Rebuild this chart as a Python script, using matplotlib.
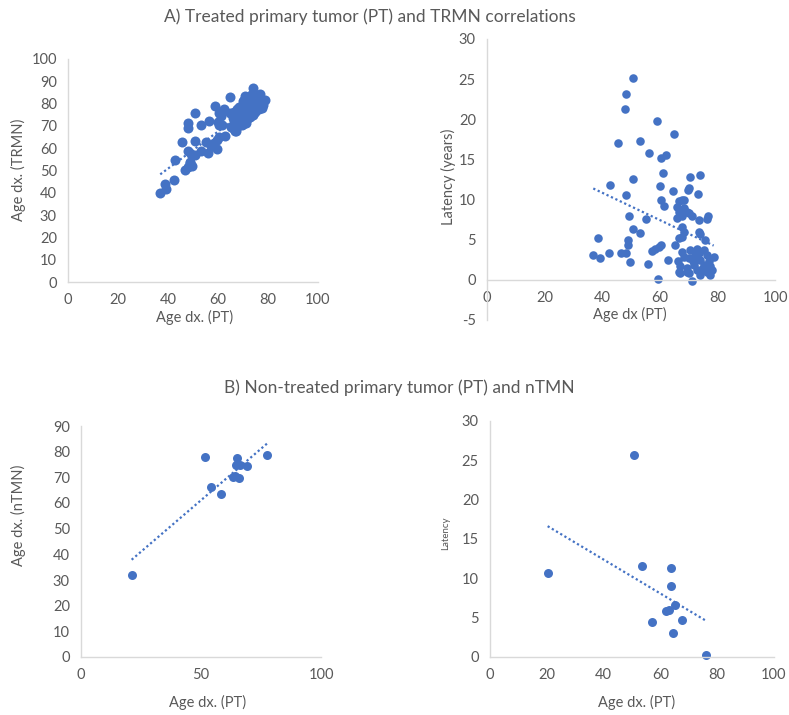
import matplotlib
matplotlib.use('Agg')
import matplotlib.pyplot as plt
import numpy as np

plt.rcParams['font.family'] = ['Lato', 'DejaVu Sans']
plt.rcParams['axes.unicode_minus'] = False

# ---------------- data ----------------
# A) treated: age at PT diagnosis, latency (years), age at TRMN diagnosis
age_pt_treated = [36.9, 39.1, 38.6, 42.3, 42.7, 45.6, 46.7, 48.1, 48.1, 48.1,
                  47.8, 48.9, 48.9, 49.3, 49.6, 50.7, 50.7, 50.7, 53.0, 53.0,
                  55.1, 56.0, 56.2, 57.2, 58.3, 58.9, 59.4, 59.7, 59.9, 60.3,
                  60.5, 60.5, 61.1, 61.4, 62.3, 62.8, 64.9, 64.6, 65.3, 66.4,
                  70.6, 74.1, 69.9, 70.3, 73.2, 66.5, 67.7, 66.0, 68.3, 66.5,
                  70.0, 67.7, 66.0, 71.2, 73.5, 76.4, 76.6, 67.7, 74.1, 75.6,
                  66.5, 67.7, 67.7, 71.2, 70.6, 72.9, 75.2, 72.3, 76.4, 78.7,
                  70.0, 74.1, 77.0, 71.8, 75.2, 77.6, 69.4, 72.9, 76.4, 67.1,
                  70.0, 77.6, 67.1, 74.1, 68.5, 73.5, 71.5, 74.7, 78.0, 73.6,
                  68.4, 66.7, 69.6, 69.6, 68.4]
latency_treated = [3.1, 2.7, 5.2, 3.3, 11.8, 17.1, 3.4, 3.3, 10.6, 23.2,
                   21.3, 5.0, 4.3, 8.0, 2.2, 12.5, 25.2, 6.3, 5.8, 17.3,
                   7.6, 2.0, 15.8, 3.6, 3.9, 19.8, 0.1, 4.1, 11.7, 10.0,
                   15.2, 4.4, 13.3, 9.2, 15.5, 2.5, 18.2, 11.1, 4.4, 2.4,
                   12.8, 13.1, 11.2, 11.5, 10.7, 9.8, 10.0, 9.1, 8.9, 8.5,
                   8.3, 7.9, 7.7, 7.9, 7.4, 7.6, 7.9, 6.6, 5.7, 5.0,
                   5.2, 5.3, 3.5, -0.1, 3.7, 3.8, 3.7, 3.1, 3.1, 2.8,
                   2.7, 2.5, 2.3, 1.9, 1.8, 1.7, 1.45, 1.25, 1.0, 0.8,
                   0.8, 0.6, 1.7, 0.6, 2.9, 3.4, 2.3, 1.4, 1.2, 5.9,
                   5.9, 0.95, 0.95, 8.4, 10.0]
age_trmn = [40.0, 41.8, 43.8, 45.6, 54.5, 62.7, 50.1, 51.4, 58.7, 71.3,
            69.1, 53.9, 53.2, 57.3, 51.8, 63.2, 75.9, 57.0, 58.8, 70.3,
            62.7, 58.0, 72.0, 60.8, 62.2, 78.7, 59.5, 63.8, 71.6, 70.3,
            75.7, 64.9, 74.4, 70.6, 77.8, 65.3, 83.1, 75.7, 69.7, 68.8,
            83.4, 87.2, 81.1, 81.8, 83.9, 76.3, 77.7, 75.1, 77.2, 75.0,
            78.3, 75.6, 73.7, 79.1, 80.9, 84.0, 84.5, 74.3, 79.8, 80.6,
            71.7, 73.0, 71.2, 71.1, 74.3, 76.7, 78.9, 75.4, 79.5, 81.5,
            72.7, 76.6, 79.3, 73.7, 77.0, 79.3, 70.9, 74.2, 77.4, 67.9,
            70.8, 78.2, 68.8, 74.7, 71.4, 76.9, 73.8, 76.1, 79.2, 79.5,
            74.3, 67.7, 70.6, 78.0, 78.4]

# B) non-treated
age_pt_nt_b1 = [21.1, 51.7, 54.2, 58.2, 63.2, 64.1, 65.2, 64.6, 65.9, 66.2, 69.0, 77.7]
age_ntmn = [31.9, 78.0, 66.3, 63.5, 70.2, 70.5, 77.4, 74.8, 69.6, 74.8, 74.4, 78.7]
age_pt_nt_b2 = [20.3, 50.6, 53.5, 63.9, 63.9, 65.3, 62.1, 62.9, 57.1, 67.6, 64.6, 76.1]
latency_nt = [10.7, 25.7, 11.6, 11.3, 9.0, 6.65, 5.9, 6.0, 4.5, 4.7, 3.1, 0.3]

title_a = "A) Treated primary tumor (PT) and TRMN correlations"
title_b = "B) Non-treated primary tumor (PT) and nTMN"

# ---------------- style ----------------
W, H = 789, 715
BLUE = '#4472C4'
GRID = '#D9D9D9'
TXT = '#595959'

fig = plt.figure(figsize=(W / 100, H / 100), dpi=100)


def rect(x0, x1, ytop, ybot):
    return [x0 / W, 1 - ybot / H, (x1 - x0) / W, (ybot - ytop) / H]


def ftext(x, y, s, **kw):
    fig.text(x / W, 1 - y / H, s, ha='center', va='center', color=TXT, **kw)


def style(ax, xlim, ylim, xticks, yticks):
    ax.set_xlim(*xlim)
    ax.set_ylim(*ylim)
    ax.set_xticks(xticks)
    ax.set_yticks(yticks)
    for s in ('top', 'right'):
        ax.spines[s].set_visible(False)
    for s in ('left', 'bottom'):
        ax.spines[s].set_color(GRID)
        ax.spines[s].set_linewidth(1.0)
    ax.tick_params(length=0, labelcolor=TXT, labelsize=10.5, pad=8)
    ax.patch.set_alpha(0)


def trend(ax, x, y):
    x = np.asarray(x)
    y = np.asarray(y)
    m, b = np.polyfit(x, y, 1)
    xs = np.array([x.min(), x.max()])
    ax.plot(xs, m * xs + b, color=BLUE, lw=1.6, ls=(0, (1, 1.2)), zorder=3)


# Panel A1
ax1 = fig.add_axes(rect(68, 318, 59, 282))
style(ax1, (0, 100), (0, 100), range(0, 101, 20), range(0, 101, 10))
ax1.scatter(age_pt_treated, age_trmn, s=52, color=BLUE, zorder=2, clip_on=False, linewidths=0)
trend(ax1, age_pt_treated, age_trmn)

# Panel A2
ax2 = fig.add_axes(rect(487, 775, 39, 320))
style(ax2, (0, 100), (-5, 30), range(0, 101, 20), range(-5, 31, 5))
ax2.spines['bottom'].set_position(('data', 0))
ax2.scatter(age_pt_treated, latency_treated, s=38, color=BLUE, zorder=2, clip_on=False, linewidths=0)
trend(ax2, age_pt_treated, latency_treated)

# Panel B1
ax3 = fig.add_axes(rect(81, 321, 426, 657))
style(ax3, (0, 100), (0, 90), [0, 50, 100], range(0, 91, 10))
ax3.scatter(age_pt_nt_b1, age_ntmn, s=42, color=BLUE, zorder=2, clip_on=False, linewidths=0)
trend(ax3, age_pt_nt_b1, age_ntmn)

# Panel B2
ax4 = fig.add_axes(rect(490, 774, 421, 657))
style(ax4, (0, 100), (0, 30), range(0, 101, 20), range(0, 31, 5))
ax4.scatter(age_pt_nt_b2, latency_nt, s=42, color=BLUE, zorder=2, clip_on=False, linewidths=0)
trend(ax4, age_pt_nt_b2, latency_nt)

# Titles and labels
ftext(370, 17, title_a, fontsize=12.5)
ftext(399, 388, title_b, fontsize=12.5)

ftext(18, 170, "Age dx. (TRMN)", fontsize=10.5, rotation=90)
ftext(195, 317, "Age dx. (PT)", fontsize=10.5)
ftext(448, 177, "Latency (years)", fontsize=10.5, rotation=90)
ftext(630, 314, "Age dx (PT)", fontsize=10.5)
ftext(18, 515, "Age dx. (nTMN)", fontsize=10.5, rotation=90)
ftext(208, 702, "Age dx. (PT)", fontsize=10.5)
ftext(446, 533, "Latency", fontsize=7, rotation=90)
ftext(637, 702, "Age dx. (PT)", fontsize=10.5)

fig.savefig('out.png', dpi=100)
